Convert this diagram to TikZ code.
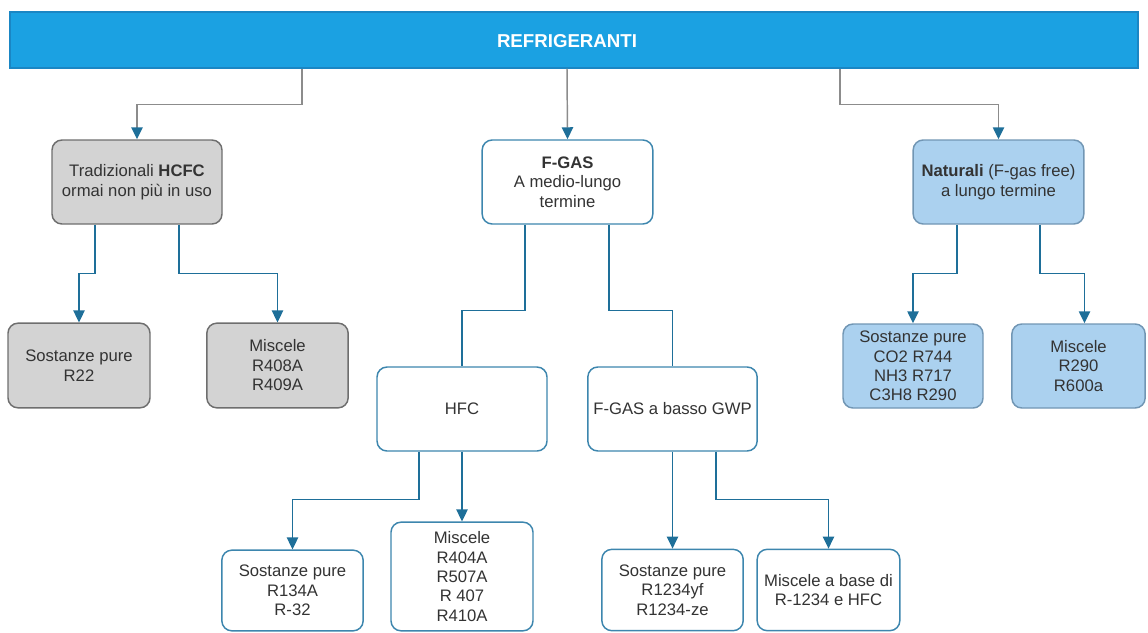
\documentclass[tikz,border=0pt]{standalone}
\usepackage{fontspec}
\setmainfont{Liberation Sans}
\usetikzlibrary{arrows.meta}
\definecolor{barfill}{HTML}{1BA1E2}
\definecolor{bardraw}{HTML}{1A86C4}
\definecolor{grayfill}{HTML}{D3D3D3}
\definecolor{graydraw}{HTML}{6E6E6E}
\definecolor{bluefill}{HTML}{ABD1EF}
\definecolor{bluedraw}{HTML}{7196B4}
\definecolor{whitedraw}{HTML}{3D86AE}
\definecolor{connblue}{HTML}{1E6F99}
\definecolor{conngray}{HTML}{8C8C8C}
\definecolor{txt}{HTML}{333333}
\tikzset{
  basebox/.style={rounded corners=7.5pt, line width=1.1pt, align=center, inner sep=0pt,
    text=txt, font=\fontsize{12.5}{14.6}\selectfont},
  graybox/.style={basebox, fill=grayfill, draw=graydraw},
  bluebox/.style={basebox, fill=bluefill, draw=bluedraw},
  whitebox/.style={basebox, fill=white, draw=whitedraw},
  arr/.style={draw=connblue, line width=1.1pt, -{Triangle[length=9pt,width=8.5pt]}},
  plain/.style={draw=connblue, line width=1.1pt},
  toparr/.style={draw=conngray, line width=1.1pt, -{Triangle[length=9pt,width=8.5pt,color=connblue]}},
}
\begin{document}
\begin{tikzpicture}[x=0.75pt,y=-0.75pt]
\useasboundingbox (0,0) rectangle (1148,632);
% top bar
\node[fill=barfill, draw=bardraw, line width=0.8pt, minimum width=846pt, minimum height=42pt, inner sep=0pt] (bar) at (574,40) {};
\node[text=white, font=\fontsize{14}{16}\selectfont\bfseries, inner sep=0pt] (bartext) at (567,41) {REFRIGERANTI};
% level 1
\node[graybox, minimum width=127.5pt, minimum height=63pt] (hcfc) at (137,182) {Tradizionali \textbf{HCFC}\\ormai non più in uso};
\node[whitebox, minimum width=128pt, minimum height=63pt] (fgas) at (567.5,182) {\textbf{F-GAS}\\A medio-lungo\\termine};
\node[bluebox, minimum width=128pt, minimum height=63pt] (nat) at (998.5,182) {\textbf{Naturali} (F-gas free)\\a lungo termine};
% level 2
\node[graybox, minimum width=106.5pt, minimum height=63.5pt] (sp1) at (79,365.5) {Sostanze pure\\R22};
\node[graybox, minimum width=106pt, minimum height=63.5pt] (mis1) at (277.5,365.5) {Miscele\\R408A\\R409A};
\node[whitebox, minimum width=127.5pt, minimum height=63pt] (hfc) at (462,409) {HFC};
\node[whitebox, minimum width=127pt, minimum height=63pt] (gwp) at (672.5,409) {F-GAS a basso GWP};
\node[bluebox, minimum width=105pt, minimum height=63pt] (sp3) at (913,366) {Sostanze pure\\CO2 R744\\NH3 R717\\C3H8 R290};
\node[bluebox, minimum width=100pt, minimum height=63pt] (mis3) at (1078.5,366) {Miscele\\R290\\R600a};
% level 3
\node[whitebox, minimum width=106pt, minimum height=60.5pt] (sp2) at (292.5,590.5) {Sostanze pure\\R134A\\R-32};
\node[whitebox, minimum width=106.5pt, minimum height=81.5pt] (mis2) at (462,576.5) {Miscele\\R404A\\R507A\\R 407\\R410A};
\node[whitebox, minimum width=106pt, minimum height=61pt] (sp4) at (672.5,590) {Sostanze pure\\R1234yf\\R1234-ze};
\node[whitebox, minimum width=107pt, minimum height=61pt] (mis4) at (828.5,590) {Miscele a base di\\R-1234 e HFC};
% connectors from bar
\draw[toparr] ([xshift=-204pt]bar.south) -- ++(0,36) -| (hcfc.north);
\draw[toparr] ([xshift=-5.25pt]bar.south) -- (fgas.north);
\draw[toparr] ([xshift=199.5pt]bar.south) -- ++(0,36) -| (nat.north);
% HCFC
\draw[arr] ([xshift=-31.5pt]hcfc.south) -- ++(0,49) -| (sp1.north);
\draw[arr] ([xshift=31.5pt]hcfc.south) -- ++(0,49) -| (mis1.north);
% F-GAS
\draw[plain] ([xshift=-32pt]fgas.south) -- ++(0,86) -| (hfc.north);
\draw[plain] ([xshift=31pt]fgas.south) -- ++(0,86) -| (gwp.north);
% HFC
\draw[arr] ([xshift=-32.25pt]hfc.south) -- ++(0,48) -| (sp2.north);
\draw[arr] (hfc.south) -- (mis2.north);
% GWP
\draw[arr] (gwp.south) -- (sp4.north);
\draw[arr] ([xshift=32.6pt]gwp.south) -- ++(0,48) -| (mis4.north);
% Naturali
\draw[arr] ([xshift=-31.1pt]nat.south) -- ++(0,49) -| (sp3.north);
\draw[arr] ([xshift=31.1pt]nat.south) -- ++(0,49) -| ([xshift=4.5pt]mis3.north);
\end{tikzpicture}
\end{document}
